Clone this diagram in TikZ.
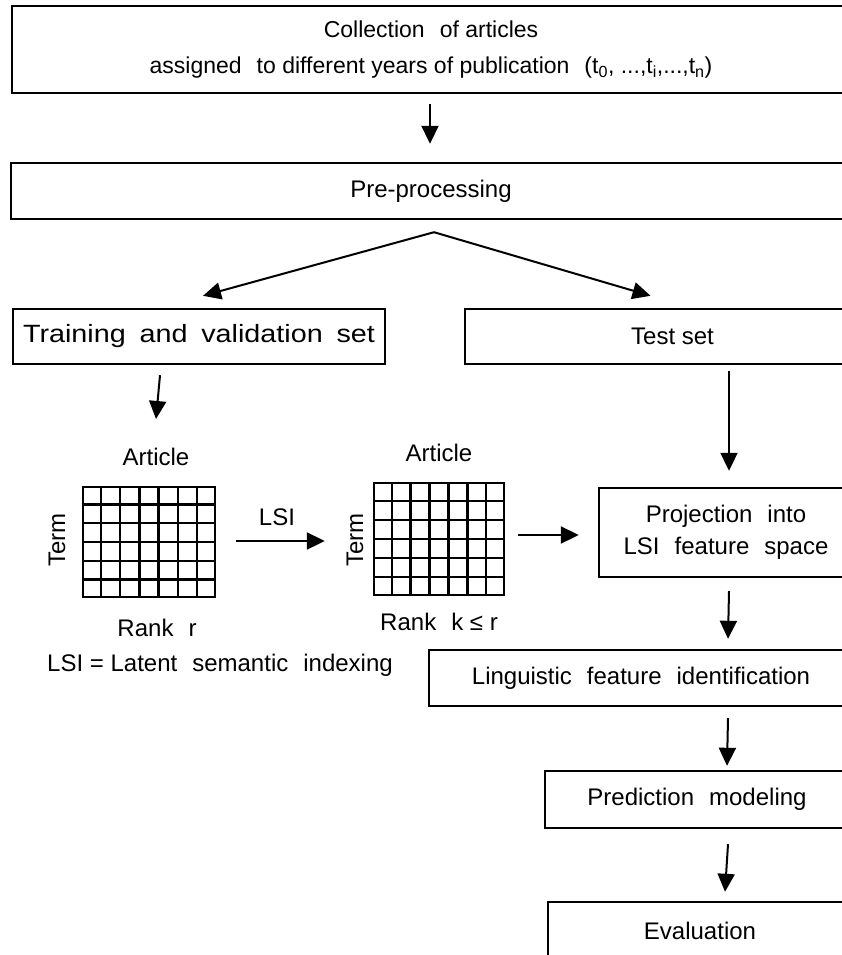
\documentclass[tikz,border=0pt]{standalone}
\usepackage{fontspec}
\setmainfont{Liberation Sans}
\usetikzlibrary{arrows.meta,calc}
\newcommand\ww{\hspace{15pt}}
\newcommand\wn{\hspace{12pt}}
\tikzset{
  box/.style={draw, line width=2.4pt, inner sep=0pt, align=center, font=\fontsize{24}{32}\selectfont},
  lbl/.style={inner sep=0pt, font=\fontsize{24}{28}\selectfont},
  arr/.style={line width=2pt, -{Triangle[length=18pt,width=17pt]}},
  gridbox/.style={draw, line width=2.4pt, inner sep=0pt},
  gline/.style={line width=2.4pt}
}
\begin{document}
\begin{tikzpicture}[x=1pt,y=-1pt]
\useasboundingbox (0,0) rectangle (842,955);
\clip (0,0) rectangle (842,955);
\fill[white] (0,0) rectangle (842,955);

% boxes
\node[box, minimum width=838pt, minimum height=87pt, font=\fontsize{23}{36}\selectfont] (top) at (431,49.5)
  {Collection\ww of articles\\assigned\ww to different years of publication\ww (t\textsubscript{0}, ...,t\textsubscript{i},...,t\textsubscript{n})};
\node[box, minimum width=840pt, minimum height=56pt] (pre) at (431,191) {Pre-processing};
\node[box, minimum width=372pt, minimum height=55pt, font=\fontsize{25}{30}\selectfont] (train) at (199,336.5) {\scalebox{1.15}[1]{Training\wn and\wn validation\wn set}};
\node[box, minimum width=415pt, minimum height=55pt] (test) at (672.5,336.5) {Test set};
\node[box, minimum width=254pt, minimum height=89pt] (proj) at (726,532.5) {Projection\ww into\\LSI\ww feature\ww space};
\node[box, minimum width=424pt, minimum height=56pt] (ling) at (641,678) {Linguistic\ww feature\ww identification};
\node[box, minimum width=304pt, minimum height=57pt] (pred) at (697,799.5) {Prediction\ww modeling};
\node[box, minimum width=304pt, minimum height=58pt] (eval) at (700,931) {Evaluation};

% matrices
\node[gridbox, minimum width=132pt, minimum height=110pt] (g1) at (149,542) {};
\node[gridbox, minimum width=130pt, minimum height=112pt] (g2) at (439,539) {};
\foreach \g in {g1,g2}{
  \foreach \i in {1,...,6}
    \draw[gline] ($(\g.south west)!\i/7!(\g.south east)$) -- ($(\g.north west)!\i/7!(\g.north east)$);
  \foreach \j in {1,...,5}
    \draw[gline] ($(\g.south west)!\j/6!(\g.north west)$) -- ($(\g.south east)!\j/6!(\g.north east)$);
}

% labels
\node[lbl] (art1) at (156,457) {Article};
\node[lbl] (art2) at (439,453) {Article};
\node[lbl, rotate=90] (term1) at (57,540) {Term};
\node[lbl, rotate=90] (term2) at (355,540) {Term};
\node[lbl] (rank1) at (157,628) {Rank\ww r};
\node[lbl] (rank2) at (439,622) {Rank\ww k ≤ r};
\node[lbl] (lsi) at (277,517) {LSI};
\node[lbl] (legend) at (220,665) {LSI = Latent\ww semantic\ww indexing};

% connectors
\draw[arr] ($(top.south)+(-1,10)$) -- ($(pre.north)+(-1,-18)$);
\coordinate (apex) at ($(pre.south)+(3,12)$);
\draw[arr] (apex) -- ($(train.north)+(4,-12)$);
\draw[arr] (apex) -- ($(test.north)+(-22,-12)$);
\draw[arr] ($(train.south)+(-39,10)$) -- ($(art1.north)+(0,-29)$);
\draw[arr] ($(test.south -| proj.north)+(3,6)$) -- ($(proj.north)+(3,-16)$);
\draw[arr] ($(g1.east)+(20,-1)$) -- ($(g2.west)+(-48,2)$);
\draw[arr] ($(g2.east)+(13,-4)$) -- ($(proj.west)+(-19,2.5)$);
\draw[arr] ($(proj.south)+(3,13)$) -- ($(ling.north -| proj.south)+(2,-10)$);
\draw[arr] ($(ling.south -| pred.north)+(31,11)$) -- ($(pred.north)+(30,-4)$);
\draw[arr] ($(pred.south)+(31,15)$) -- ($(eval.north)+(25,-9)$);
\end{tikzpicture}
\end{document}
